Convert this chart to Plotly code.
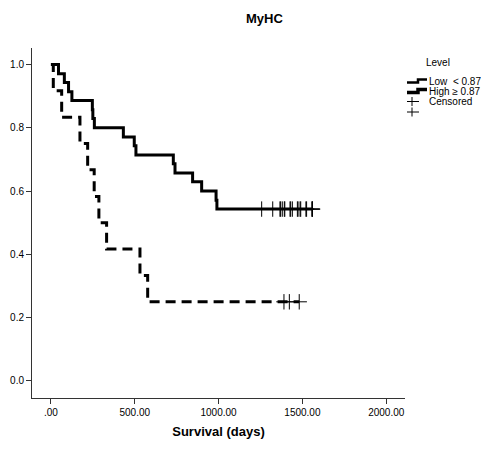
import plotly.graph_objects as go

# ---- data ----
high_times = [0, 45, 80, 105, 125, 247, 250, 259, 432, 497, 507, 730, 740, 845, 899, 985, 990, 1560]
high_surv = [1.0, 0.971, 0.943, 0.914, 0.886, 0.857, 0.829, 0.800, 0.771, 0.743, 0.714,
             0.686, 0.657, 0.629, 0.600, 0.571, 0.543, 0.543]
high_censor_times = [1257, 1323, 1366, 1370, 1380, 1392, 1395, 1426, 1430, 1440,
                     1470, 1474, 1486, 1490, 1521, 1525, 1556, 1560, 1560]
high_censor_surv = [0.543] * len(high_censor_times)

low_times = [0, 14, 64, 173, 219, 258, 286, 332, 531, 577, 1481]
low_surv = [1.0, 0.917, 0.833, 0.750, 0.667, 0.583, 0.500, 0.417, 0.333, 0.250, 0.250]
low_censor_times = [1390, 1422, 1481]
low_censor_surv = [0.250] * len(low_censor_times)

x_tickvals = [0, 500, 1000, 1500, 2000]
x_ticktext = [".00", "500.00", "1000.00", "1500.00", "2000.00"]
y_tickvals = [0.0, 0.2, 0.4, 0.6, 0.8, 1.0]

legend_title = "Level"
legend_labels = ["Low  < 0.87", "High \u2265 0.87", "Censored", ""]

FONT = "Liberation Sans, Arial, sans-serif"
W, H = 481, 450
L, R, T, B = 32, 76, 48, 52

fig = go.Figure()
fig.add_trace(go.Scatter(x=low_times, y=low_surv, mode="lines", line_shape="hv",
                         line=dict(color="black", width=3, dash="10px,6px"), showlegend=False))
fig.add_trace(go.Scatter(x=high_times, y=high_surv, mode="lines", line_shape="hv",
                         line=dict(color="black", width=3), showlegend=False))
for xs, ys in [(low_censor_times, low_censor_surv), (high_censor_times, high_censor_surv)]:
    fig.add_trace(go.Scatter(x=xs, y=ys, mode="markers",
                             marker=dict(symbol="cross-thin", size=11,
                                         line=dict(color="black", width=1)),
                             showlegend=False, cliponaxis=False))

def px2paper(px, py):
    return (px - L) / (W - L - R), (H - B - py) / (H - T - B)

shapes = []
annotations = []
tx, ty = px2paper(264, 18)
annotations.append(dict(text="<b>MyHC</b>", x=tx, y=ty, xref="paper", yref="paper",
                        xanchor="center", yanchor="middle",
                        showarrow=False, font=dict(size=13, family=FONT, color="black")))
lx, ly = px2paper(438, 63)
annotations.append(dict(text=legend_title, x=lx, y=ly, xref="paper", yref="paper",
                        xanchor="center", yanchor="middle",
                        showarrow=False, font=dict(size=10, family=FONT, color="black")))
rows_y = [81, 91, 101.5, 112]
for i, (lab, ry) in enumerate(zip(legend_labels, rows_y)):
    tx, ty = px2paper(427, ry)
    if lab:
        annotations.append(dict(text=lab, x=tx, y=ty, xref="paper", yref="paper",
                                xanchor="left", yanchor="middle", showarrow=False,
                                font=dict(size=10, family=FONT, color="black")))
    if i < 2:
        pts = [(407, ry + 1.5), (418, ry + 1.5), (418, ry - 1.5), (427, ry - 1.5)]
        pp = [px2paper(a, b) for a, b in pts]
        path = "M " + " L ".join(f"{a},{b}" for a, b in pp)
        shapes.append(dict(type="path", path=path, xref="paper", yref="paper",
                           line=dict(color="black", width=2.5 if i == 0 else 3.5)))
    else:
        x0, y0 = px2paper(407, ry)
        x1, _ = px2paper(419, ry)
        xm, ya = px2paper(412, ry - 4.5)
        _, yb = px2paper(412, ry + 4.5)
        shapes.append(dict(type="line", x0=x0, x1=x1, y0=y0, y1=y0, xref="paper", yref="paper",
                           line=dict(color="black", width=1)))
        shapes.append(dict(type="line", x0=xm, x1=xm, y0=ya, y1=yb, xref="paper", yref="paper",
                           line=dict(color="black", width=1)))

fig.update_layout(
    width=W, height=H,
    margin=dict(l=L, r=R, t=T, b=B, pad=0, autoexpand=False),
    paper_bgcolor="white", plot_bgcolor="white",
    font=dict(family=FONT, size=10, color="black"),
    shapes=shapes, annotations=annotations,
    xaxis=dict(range=[-113, 2112], tickvals=x_tickvals, ticktext=x_ticktext, automargin=False,
               showgrid=False, zeroline=False, showline=True, linecolor="#333", linewidth=1,
               ticks="outside", ticklen=5, tickcolor="#333",
               tickfont=dict(size=10, family=FONT, color="black"),
               title=dict(text="<b>Survival (days)</b>", font=dict(size=13, family=FONT, color="black"),
                          standoff=9)),
    yaxis=dict(range=[-0.054, 1.052], tickvals=y_tickvals, tickformat=".1f", automargin=False,
               showgrid=False, zeroline=False, showline=True, linecolor="#333", linewidth=1,
               ticks="outside", ticklen=5, tickcolor="#333",
               tickfont=dict(size=10, family=FONT, color="black")),
)

fig.write_html("out.html", config={"displayModeBar": False},
               post_script="document.body.style.margin='0';document.body.style.padding='0';")
